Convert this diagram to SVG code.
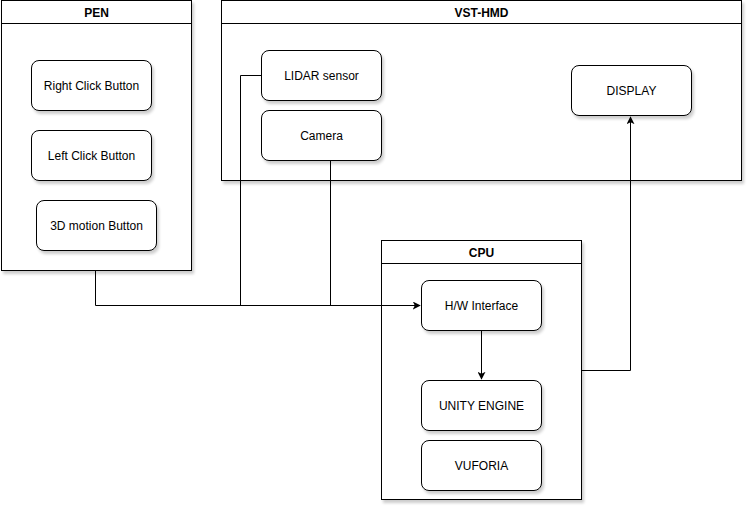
<svg xmlns="http://www.w3.org/2000/svg" width="753" height="512" viewBox="0 0 753 512">
<style>
.c{fill:#fff;stroke:#000;stroke-width:1}
.n{fill:#fff;stroke:#000;stroke-width:1}
.t{font-family:"Liberation Sans",Arial,sans-serif;font-size:12px;text-anchor:middle;dominant-baseline:central;fill:#000}
.h{font-weight:bold}
.e{fill:none;stroke:#000;stroke-width:1}
</style>
<defs>
<filter id="sh" x="-10%" y="-10%" width="130%" height="130%">
<feOffset in="SourceAlpha" dx="2" dy="3" result="o"/>
<feGaussianBlur in="o" stdDeviation="1.5" result="b"/>
<feComponentTransfer in="b" result="a"><feFuncA type="linear" slope="0.2"/></feComponentTransfer>
<feMerge><feMergeNode in="a"/><feMergeNode in="SourceGraphic"/></feMerge>
</filter>
<marker id="ar" viewBox="0 0 10 10" refX="9" refY="5" markerWidth="8" markerHeight="8" markerUnits="userSpaceOnUse" orient="auto">
<path d="M0,0 L10,5 L0,10 L2.5,5 z" fill="#000"/>
</marker>
</defs>
<g transform="translate(1,0)">
<g id="pen">
<rect class="c" x="0.5" y="0.5" width="190" height="270" filter="url(#sh)"/>
<line class="e" x1="0.5" y1="23.5" x2="190.5" y2="23.5"/>
<text class="t h" x="95.5" y="12.5">PEN</text>
</g>
<g id="vst-hmd">
<rect class="c" x="220.5" y="0.5" width="520" height="180" filter="url(#sh)"/>
<line class="e" x1="220.5" y1="23.5" x2="740.5" y2="23.5"/>
<text class="t h" x="480.5" y="12.5">VST-HMD</text>
</g>
<g id="cpu">
<rect class="c" x="380.5" y="240.5" width="200" height="259" filter="url(#sh)"/>
<line class="e" x1="380.5" y1="263.5" x2="580.5" y2="263.5"/>
<text class="t h" x="480.5" y="252.5">CPU</text>
</g>
<g id="connectors">
<path class="e" d="M94.5,270.5 V305.5 H419" marker-end="url(#ar)"/>
<path class="e" d="M260.5,75.5 H239.5 V305.5"/>
<path class="e" d="M329.5,160.5 V305.5"/>
<path class="e" d="M480.5,330.5 V379" marker-end="url(#ar)"/>
<path class="e" d="M580.5,370.5 H629.5 V117" marker-end="url(#ar)"/>
</g>
<g id="right-click">
<rect class="n" x="30.5" y="60.5" width="120" height="50" rx="7.5" filter="url(#sh)"/>
<text class="t" x="90.5" y="85.5">Right Click Button</text>
</g>
<g id="left-click">
<rect class="n" x="30.5" y="130.5" width="120" height="50" rx="7.5" filter="url(#sh)"/>
<text class="t" x="90.5" y="155.5">Left Click Button</text>
</g>
<g id="motion">
<rect class="n" x="35.5" y="200.5" width="120" height="50" rx="7.5" filter="url(#sh)"/>
<text class="t" x="95.5" y="225.5">3D motion Button</text>
</g>
<g id="lidar">
<rect class="n" x="260.5" y="50.5" width="120" height="50" rx="7.5" filter="url(#sh)"/>
<text class="t" x="320.5" y="75.5">LIDAR sensor</text>
</g>
<g id="camera">
<rect class="n" x="260.5" y="110.5" width="120" height="50" rx="7.5" filter="url(#sh)"/>
<text class="t" x="320.5" y="135.5">Camera</text>
</g>
<g id="display">
<rect class="n" x="570.5" y="65.5" width="120" height="50" rx="7.5" filter="url(#sh)"/>
<text class="t" x="630.5" y="90.5">DISPLAY</text>
</g>
<g id="hw-interface">
<rect class="n" x="420.5" y="280.5" width="120" height="50" rx="7.5" filter="url(#sh)"/>
<text class="t" x="480.5" y="305.5">H/W Interface</text>
</g>
<g id="unity">
<rect class="n" x="420.5" y="380.5" width="120" height="50" rx="7.5" filter="url(#sh)"/>
<text class="t" x="480.5" y="405.5">UNITY ENGINE</text>
</g>
<g id="vuforia">
<rect class="n" x="420.5" y="440.5" width="120" height="50" rx="7.5" filter="url(#sh)"/>
<text class="t" x="480.5" y="465.5">VUFORIA</text>
</g>
</g>
</svg>
